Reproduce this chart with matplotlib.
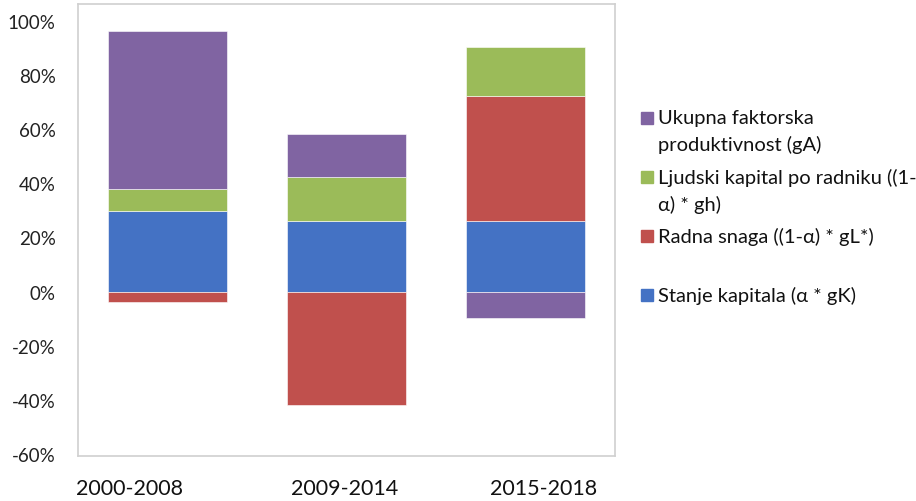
import numpy as np
import matplotlib.pyplot as plt
from matplotlib.patches import Rectangle
from matplotlib.ticker import FuncFormatter

plt.rcParams['font.family'] = ['Lato', 'DejaVu Sans']

periods = ['2000-2008', '2009-2014', '2015-2018']
# series in stacking order (bottom first)
labels = ['Stanje kapitala (α * gK)',
          'Radna snaga ((1-α) * gL*)\n',
          'Ljudski kapital po radniku ((1-\nα) * gh)',
          'Ukupna faktorska\nproduktivnost (gA)']
colors = ['#4472C4', '#C0504D', '#9BBB59', '#8064A2']
kapital = [0.296, 0.261, 0.261]
radna = [-0.037, -0.418, 0.462]
ljudski = [0.082, 0.164, 0.181]
ufp = [0.585, 0.159, -0.096]
series = [kapital, radna, ljudski, ufp]

fig = plt.figure(figsize=(9.16, 5.02), dpi=100)
ax = fig.add_axes([0.085, 0.0896, 0.586, 0.9004])

x = np.arange(len(periods))
pos = np.zeros(len(periods))
neg = np.zeros(len(periods))
for vals, col in zip(series, colors):
    vals = np.array(vals)
    base = np.where(vals >= 0, pos, neg)
    ax.bar(x, vals, 0.665, bottom=base, color=col, edgecolor='#ffffff', linewidth=0.4)
    pos = pos + np.where(vals >= 0, vals, 0)
    neg = neg + np.where(vals < 0, vals, 0)

ax.set_xlim(-0.5, 2.5)
ax.set_ylim(-0.608, 1.063)
ax.set_yticks(np.arange(-0.6, 1.01, 0.2))
ax.yaxis.set_major_formatter(FuncFormatter(lambda v, p: '{:.0f}%'.format(v * 100)))
# category labels sit a bit off the bar centres in the original
ax.set_xticks(x + np.array([-0.21, -0.01, 0.10]))
ax.set_xticklabels(periods, fontsize=15.5)
ax.tick_params(axis='y', length=0, pad=16, labelsize=13.5, colors='#222222')
ax.tick_params(axis='x', length=0, pad=16, colors='#111111')
for s in ax.spines.values():
    s.set_color('#d0d0d0')
    s.set_linewidth(1.2)

# legend, top entry first, one fixed slot per entry
slot = 59 / 502
y0 = 1 - 113 / 502
for i, k in enumerate(range(len(labels) - 1, -1, -1)):
    ytop = y0 - i * slot
    fig.patches.append(Rectangle((641 / 916, ytop - 12 / 502), 12 / 916, 12 / 502,
                                 transform=fig.transFigure, color=colors[k]))
    fig.text(658 / 916, ytop + 3 / 502, labels[k], fontsize=14.5, va='top', ha='left',
             linespacing=1.62, color='#111111')

fig.savefig('out.png', dpi=100)
